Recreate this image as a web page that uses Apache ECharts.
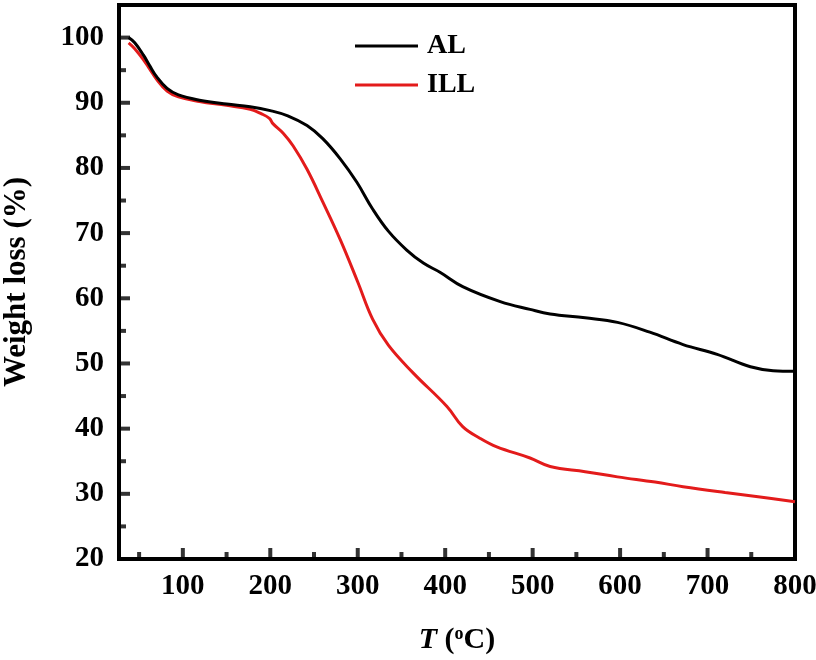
<!DOCTYPE html>
<html><head><meta charset="utf-8">
<script src="https://cdn.jsdelivr.net/npm/echarts@6/dist/echarts.min.js"></script>
<style>html,body{margin:0;padding:0;background:#fff}#c{width:816px;height:660px}</style>
</head><body><div id="c"></div>
<script>
const alT = [38, 45, 55, 62, 70, 82, 95, 119, 150, 177, 200, 220, 242, 260, 280, 299, 317, 335, 356, 375, 394, 420, 463, 497, 520, 560, 597, 634, 672, 711, 749, 775, 800];
const alW = [100, 99.2, 97.3, 95.7, 94, 92.2, 91.2, 90.4, 89.8, 89.4, 88.8, 88.0, 86.5, 84.5, 81.4, 77.8, 73.7, 70.3, 67.4, 65.4, 64, 61.8, 59.5, 58.3, 57.6, 57, 56.3, 54.8, 52.9, 51.4, 49.5, 48.9, 48.8];
const illT = [38, 45, 55, 62, 70, 82, 95, 119, 150, 177, 190, 199, 203, 215, 226, 242, 260, 280, 300, 317, 335, 363, 402, 420, 440, 459, 497, 520, 560, 597, 640, 672, 720, 760, 800];
const illW = [99.2, 98.3, 96.6, 95.2, 93.6, 91.8, 90.9, 90.2, 89.6, 89.0, 88.3, 87.6, 86.8, 85.3, 83.4, 79.8, 74.8, 69, 62.5, 56.8, 52.8, 48.6, 43.4, 40.3, 38.5, 37.2, 35.5, 34.2, 33.4, 32.6, 31.8, 31.1, 30.2, 29.5, 28.8];
const xLabels = [100, 200, 300, 400, 500, 600, 700, 800];
const xMajor = [100, 200, 300, 400, 500, 600, 700];
const xMinor = [50, 150, 250, 350, 450, 550, 650, 750];
const yLabels = [20, 30, 40, 50, 60, 70, 80, 90, 100];
const yMajor = [30, 40, 50, 60, 70, 80, 90, 100];
const yMinor = [25, 35, 45, 55, 65, 75, 85, 95];
const X_MIN = 27, X_MAX = 800, Y_MIN = 20, Y_MAX = 105;

const FONT = "Liberation Serif";
const zip = (a, b) => a.map((v, i) => [v, b[i]]);
const chart = echarts.init(document.getElementById('c'), null, {renderer: 'canvas'});
const lbl = {fontFamily: FONT, fontWeight: 'bold', fontSize: 29, color: '#000'};
const tickSeries = (data, size, offset) => ({
  type: 'scatter', data: data, symbol: 'rect', symbolSize: size, symbolOffset: offset,
  itemStyle: {color: '#000'}, silent: true, clip: false, z: 5, animation: false, tooltip: {show: false}
});
chart.setOption({
  animation: false,
  grid: {left: 119, right: 21, top: 5, bottom: 101, show: true, borderColor: '#000', borderWidth: 4,
    backgroundColor: 'transparent', containLabel: false, outerBoundsMode: 'none'},
  legend: {
    orient: 'vertical', left: 350, top: 27, itemWidth: 63, itemHeight: 3, itemGap: 11, icon: 'rect',
    textStyle: {fontFamily: FONT, fontWeight: 'bold', fontSize: 28, color: '#000', lineHeight: 26, padding: [0, 0, 0, 4]},
    data: ['AL', 'ILL']
  },
  xAxis: {
    type: 'value', min: X_MIN, max: X_MAX, position: 'bottom', splitLine: {show: false},
    name: '{it|T} ({sup|o}C)', nameLocation: 'middle', nameGap: 66,
    nameTextStyle: {fontFamily: FONT, fontWeight: 'bold', fontSize: 30, color: '#000',
      rich: {
        it: {fontFamily: FONT, fontWeight: 'bold', fontStyle: 'italic', fontSize: 30, color: '#000'},
        sup: {fontFamily: FONT, fontWeight: 'bold', fontSize: 18, color: '#000', verticalAlign: 'top', padding: [0, 0, 12, 0]}
      }},
    axisLine: {show: true, onZero: false, lineStyle: {color: '#000', width: 4}},
    axisTick: {show: false},
    axisLabel: Object.assign({margin: 13, customValues: xLabels}, lbl)
  },
  yAxis: {
    type: 'value', min: Y_MIN, max: Y_MAX, position: 'left', splitLine: {show: false},
    name: 'Weight loss (%)', nameLocation: 'middle', nameGap: 87, nameRotate: 90,
    nameTextStyle: {fontFamily: FONT, fontWeight: 'bold', fontSize: 31, color: '#000'},
    axisLine: {show: true, onZero: false, lineStyle: {color: '#000', width: 4}},
    axisTick: {show: false},
    axisLabel: Object.assign({margin: 15, customValues: yLabels}, lbl)
  },
  series: [{
    name: 'AL', type: 'line', data: zip(alT, alW), smooth: 0.4, showSymbol: false, symbol: 'none',
    lineStyle: {color: '#000', width: 3}, itemStyle: {color: '#000'}, z: 3
  }, {
    name: 'ILL', type: 'line', data: zip(illT, illW), smooth: 0.4, showSymbol: false, symbol: 'none',
    lineStyle: {color: '#e31b1b', width: 3}, itemStyle: {color: '#e31b1b'}, z: 2
  },
    tickSeries(xMajor.map(v => [v, Y_MIN]), [4, 11], [0, -5.5]),
    tickSeries(xMinor.map(v => [v, Y_MIN]), [4, 7], [0, -3.5]),
    tickSeries(yMajor.map(v => [X_MIN, v]), [11, 4], [5.5, 0]),
    tickSeries(yMinor.map(v => [X_MIN, v]), [7, 4], [3.5, 0])
  ]
});
</script></body></html>
